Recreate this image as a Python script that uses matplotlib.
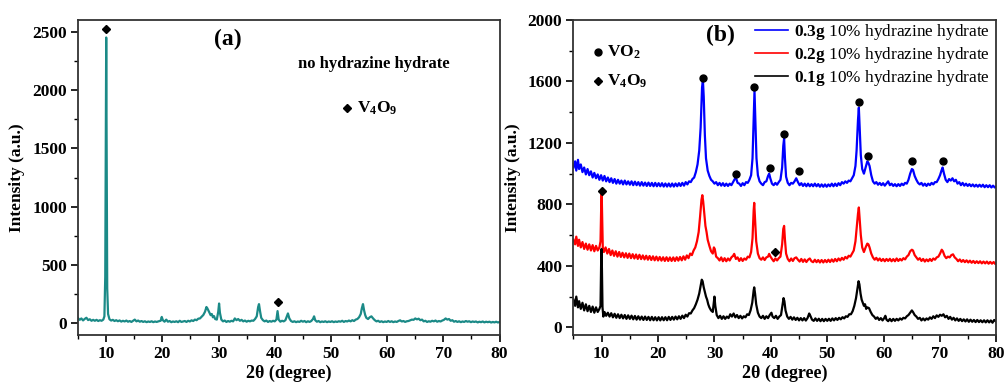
import matplotlib
matplotlib.use("Agg")
import matplotlib.pyplot as plt
from matplotlib.ticker import MultipleLocator

plt.rcParams['font.family'] = ['Liberation Serif', 'DejaVu Serif']
plt.rcParams['font.weight'] = 'bold'
plt.rcParams['mathtext.fontset'] = 'custom'
plt.rcParams['mathtext.rm'] = 'Liberation Serif'
plt.rcParams['mathtext.bf'] = 'Liberation Serif:bold'
plt.rcParams['mathtext.it'] = 'Liberation Serif:italic'

# ---- panel (a): no hydrazine hydrate, (2theta, intensity)
pts_a = [
    (5.0, 45), (5.3, 30), (5.6, 42), (5.9, 25), (6.2, 38), (6.5, 48), (6.8, 28), (7.1, 35), (7.4, 22), (7.7, 30),
    (8.0, 22), (8.3, 30), (8.6, 20), (8.9, 27), (9.2, 22), (9.5, 32), (9.7, 60), (9.85, 400), (9.95, 1500), (10.02, 2450),
    (10.1, 1400), (10.2, 300), (10.35, 80), (10.6, 35), (10.9, 24), (11.2, 30), (11.5, 20), (11.8, 27), (12.1, 18), (12.4, 25),
    (12.7, 15), (13.0, 22), (13.3, 16), (13.6, 24), (13.9, 14), (14.2, 20), (14.5, 12), (14.8, 22), (15.1, 32), (15.4, 17),
    (15.7, 24), (16.0, 14), (16.3, 20), (16.6, 12), (16.9, 18), (17.2, 10), (17.5, 16), (17.8, 12), (18.1, 18), (18.4, 10),
    (18.7, 16), (19.0, 12), (19.3, 17), (19.7, 22), (19.9, 55), (20.1, 27), (20.4, 14), (20.7, 32), (21.0, 14), (21.3, 20),
    (21.6, 10), (21.9, 16), (22.2, 12), (22.5, 18), (22.8, 10), (23.1, 22), (23.4, 12), (23.7, 16), (24.0, 20), (24.3, 12),
    (24.6, 22), (24.9, 16), (25.2, 26), (25.5, 20), (25.8, 32), (26.1, 27), (26.4, 40), (26.7, 42), (27.0, 57), (27.3, 72),
    (27.6, 100), (27.85, 140), (28.0, 130), (28.2, 110), (28.4, 90), (28.6, 70), (28.8, 80), (29.0, 52), (29.2, 62), (29.4, 37),
    (29.7, 32), (29.95, 100), (30.1, 170), (30.25, 90), (30.5, 32), (30.8, 17), (31.1, 24), (31.4, 12), (31.7, 20), (32.0, 14),
    (32.3, 22), (32.6, 17), (32.9, 42), (33.2, 27), (33.5, 37), (33.8, 22), (34.1, 30), (34.4, 17), (34.7, 24), (35.0, 14),
    (35.3, 22), (35.6, 17), (35.9, 24), (36.2, 22), (36.5, 37), (36.8, 60), (37.05, 140), (37.2, 165), (37.4, 100), (37.6, 47),
    (37.9, 27), (38.2, 17), (38.5, 24), (38.8, 12), (39.1, 20), (39.4, 14), (39.7, 22), (40.0, 17), (40.3, 32), (40.5, 105),
    (40.7, 32), (41.0, 14), (41.3, 22), (41.6, 17), (41.9, 27), (42.15, 60), (42.35, 85), (42.6, 42), (42.9, 20), (43.2, 12),
    (43.5, 18), (43.8, 10), (44.1, 16), (44.4, 12), (44.7, 22), (45.0, 14), (45.3, 20), (45.6, 10), (45.9, 18), (46.2, 12),
    (46.5, 20), (46.8, 37), (47.0, 60), (47.2, 27), (47.5, 14), (47.8, 20), (48.1, 10), (48.4, 16), (48.7, 12), (49.0, 18),
    (49.3, 10), (49.6, 16), (49.9, 12), (50.2, 18), (50.5, 10), (50.8, 16), (51.1, 12), (51.4, 18), (51.7, 14), (52.0, 22),
    (52.3, 12), (52.6, 20), (52.9, 16), (53.2, 24), (53.5, 17), (53.8, 27), (54.1, 20), (54.4, 32), (54.7, 37), (55.0, 52),
    (55.3, 80), (55.5, 130), (55.7, 165), (55.9, 110), (56.1, 70), (56.3, 47), (56.6, 37), (56.9, 52), (57.2, 60), (57.5, 42),
    (57.8, 27), (58.1, 17), (58.4, 22), (58.7, 12), (59.0, 18), (59.3, 10), (59.6, 16), (59.9, 12), (60.2, 20), (60.5, 12),
    (60.8, 18), (61.1, 10), (61.4, 16), (61.7, 12), (62.0, 20), (62.3, 26), (62.6, 16), (62.9, 20), (63.2, 12), (63.5, 18),
    (63.8, 20), (64.1, 26), (64.4, 32), (64.7, 30), (65.0, 42), (65.3, 34), (65.6, 40), (65.9, 27), (66.2, 32), (66.5, 17),
    (66.8, 22), (67.1, 12), (67.4, 18), (67.7, 14), (68.0, 22), (68.3, 17), (68.6, 24), (68.9, 14), (69.2, 20), (69.5, 16),
    (69.8, 24), (70.1, 30), (70.4, 42), (70.7, 32), (71.0, 37), (71.3, 22), (71.6, 27), (71.9, 14), (72.2, 20), (72.5, 12),
    (72.8, 18), (73.1, 10), (73.4, 16), (73.7, 12), (74.0, 20), (74.3, 14), (74.6, 18), (74.9, 10), (75.2, 16), (75.5, 12),
    (75.8, 16), (76.1, 8), (76.4, 14), (76.7, 10), (77.0, 16), (77.3, 8), (77.6, 14), (77.9, 10), (78.2, 14), (78.5, 7),
    (78.8, 12), (79.1, 8), (79.4, 14), (79.7, 7), (80.0, 12),
]

# ---- panel (b): 0.3 g sample (blue)
pts_03 = [
    (5.0, 1040), (5.3, 1080), (5.5, 1020), (5.8, 1090), (6.0, 1030), (6.3, 1060), (6.6, 1010), (6.9, 1040), (7.2, 995), (7.5, 1030),
    (7.8, 990), (8.1, 1015), (8.4, 975), (8.7, 1005), (9.0, 970), (9.3, 995), (9.6, 960), (9.9, 990), (10.2, 955), (10.5, 985),
    (10.8, 950), (11.1, 975), (11.4, 945), (11.7, 970), (12.0, 940), (12.3, 965), (12.6, 935), (12.9, 960), (13.2, 935), (13.5, 955),
    (13.8, 930), (14.1, 955), (14.4, 930), (14.7, 950), (15.0, 928), (15.3, 950), (15.6, 925), (15.9, 948), (16.2, 925), (16.5, 945),
    (16.8, 922), (17.1, 945), (17.4, 922), (17.7, 942), (18.0, 920), (18.3, 942), (18.6, 920), (18.9, 940), (19.2, 918), (19.5, 940),
    (19.8, 918), (20.1, 938), (20.4, 918), (20.7, 938), (21.0, 916), (21.3, 936), (21.6, 916), (21.9, 936), (22.2, 916), (22.5, 936),
    (22.8, 916), (23.1, 936), (23.4, 918), (23.7, 938), (24.0, 920), (24.3, 940), (24.6, 922), (24.9, 945), (25.2, 930), (25.5, 950),
    (25.8, 945), (26.1, 965), (26.4, 975), (26.7, 1010), (27.0, 1060), (27.3, 1150), (27.55, 1300), (27.8, 1560), (27.95, 1610), (28.1, 1500),
    (28.3, 1250), (28.5, 1100), (28.8, 1020), (29.1, 985), (29.4, 960), (29.7, 950), (30.0, 935), (30.3, 945), (30.6, 925), (30.9, 940),
    (31.2, 922), (31.5, 938), (31.8, 920), (32.1, 935), (32.4, 920), (32.7, 935), (33.0, 925), (33.3, 945), (33.6, 965), (33.8, 975),
    (34.1, 940), (34.4, 935), (34.7, 920), (35.0, 938), (35.3, 925), (35.6, 945), (35.9, 940), (36.2, 960), (36.5, 990), (36.75, 1100),
    (36.95, 1350), (37.1, 1540), (37.25, 1350), (37.45, 1100), (37.7, 990), (38.0, 950), (38.3, 935), (38.6, 925), (38.9, 945), (39.2, 950),
    (39.5, 985), (39.7, 1000), (39.9, 970), (40.2, 935), (40.5, 925), (40.8, 940), (41.1, 928), (41.4, 945), (41.7, 960), (42.0, 1040),
    (42.2, 1180), (42.35, 1230), (42.5, 1100), (42.7, 980), (43.0, 940), (43.3, 925), (43.6, 940), (43.9, 935), (44.2, 950), (44.5, 970),
    (44.8, 945), (45.1, 925), (45.4, 938), (45.7, 920), (46.0, 935), (46.3, 918), (46.6, 935), (46.9, 918), (47.2, 932), (47.5, 918),
    (47.8, 935), (48.1, 918), (48.4, 932), (48.7, 915), (49.0, 930), (49.3, 915), (49.6, 930), (49.9, 915), (50.2, 930), (50.5, 918),
    (50.8, 935), (51.1, 918), (51.4, 935), (51.7, 920), (52.0, 938), (52.3, 925), (52.6, 945), (52.9, 935), (53.2, 950), (53.5, 940),
    (53.8, 955), (54.1, 950), (54.4, 970), (54.7, 990), (55.0, 1050), (55.2, 1150), (55.45, 1350), (55.6, 1430), (55.75, 1300), (55.95, 1120),
    (56.2, 1030), (56.5, 1000), (56.8, 1040), (57.1, 1080), (57.3, 1070), (57.5, 1050), (57.8, 990), (58.1, 950), (58.4, 935), (58.7, 945),
    (59.0, 928), (59.3, 940), (59.6, 925), (59.9, 938), (60.2, 922), (60.5, 936), (60.8, 950), (61.1, 925), (61.4, 935), (61.7, 920),
    (62.0, 932), (62.3, 918), (62.6, 932), (62.9, 920), (63.2, 935), (63.5, 925), (63.8, 940), (64.1, 935), (64.4, 960), (64.7, 1000),
    (65.0, 1030), (65.2, 1025), (65.5, 985), (65.8, 960), (66.1, 940), (66.4, 930), (66.7, 940), (67.0, 922), (67.3, 935), (67.6, 920),
    (67.9, 935), (68.2, 925), (68.5, 940), (68.8, 930), (69.1, 945), (69.4, 945), (69.7, 965), (70.0, 990), (70.25, 1020), (70.45, 1040),
    (70.7, 1000), (71.0, 960), (71.3, 945), (71.6, 965), (71.9, 955), (72.2, 970), (72.5, 950), (72.8, 960), (73.1, 935), (73.4, 945),
    (73.7, 925), (74.0, 940), (74.3, 922), (74.6, 935), (74.9, 920), (75.2, 932), (75.5, 918), (75.8, 930), (76.1, 916), (76.4, 928),
    (76.7, 915), (77.0, 928), (77.3, 915), (77.6, 928), (77.9, 912), (78.2, 925), (78.5, 912), (78.8, 925), (79.1, 910), (79.4, 922),
    (79.7, 910), (80.0, 918),
]

# ---- 0.2 g sample (red)
pts_02 = [
    (5.0, 570), (5.3, 540), (5.5, 590), (5.8, 530), (6.0, 570), (6.3, 520), (6.6, 555), (6.9, 510), (7.2, 545), (7.5, 505),
    (7.8, 540), (8.1, 500), (8.4, 535), (8.7, 495), (9.0, 530), (9.3, 500), (9.6, 520), (9.8, 560), (9.9, 750), (10.0, 880),
    (10.1, 700), (10.2, 520), (10.4, 490), (10.7, 520), (11.0, 480), (11.3, 510), (11.6, 470), (11.9, 500), (12.2, 465), (12.5, 495),
    (12.8, 460), (13.1, 490), (13.4, 458), (13.7, 485), (14.0, 455), (14.3, 482), (14.6, 452), (14.9, 480), (15.2, 450), (15.5, 476),
    (15.8, 448), (16.1, 474), (16.4, 445), (16.7, 472), (17.0, 444), (17.3, 468), (17.6, 442), (17.9, 466), (18.2, 440), (18.5, 464),
    (18.8, 438), (19.1, 462), (19.4, 436), (19.7, 460), (20.0, 435), (20.3, 458), (20.6, 434), (20.9, 456), (21.2, 432), (21.5, 456),
    (21.8, 432), (22.1, 455), (22.4, 432), (22.7, 455), (23.0, 432), (23.3, 456), (23.6, 434), (23.9, 458), (24.2, 436), (24.5, 462),
    (24.8, 440), (25.1, 468), (25.4, 450), (25.7, 480), (26.0, 470), (26.3, 500), (26.6, 520), (26.9, 560), (27.2, 620), (27.45, 720),
    (27.7, 830), (27.85, 860), (28.0, 820), (28.2, 740), (28.4, 660), (28.6, 620), (28.8, 570), (29.1, 530), (29.4, 495), (29.7, 480),
    (29.9, 520), (30.05, 510), (30.3, 460), (30.6, 450), (30.9, 435), (31.2, 455), (31.5, 430), (31.8, 450), (32.1, 430), (32.4, 448),
    (32.7, 435), (33.0, 455), (33.3, 465), (33.5, 478), (33.8, 445), (34.1, 455), (34.4, 432), (34.7, 450), (35.0, 432), (35.3, 448),
    (35.6, 440), (35.9, 460), (36.2, 455), (36.5, 490), (36.75, 580), (36.95, 760), (37.05, 810), (37.2, 700), (37.4, 560), (37.7, 480),
    (38.0, 450), (38.3, 440), (38.6, 455), (38.9, 438), (39.2, 455), (39.5, 460), (39.7, 478), (39.9, 462), (40.2, 445), (40.5, 430),
    (40.8, 448), (41.1, 435), (41.4, 450), (41.7, 460), (42.0, 540), (42.2, 640), (42.35, 660), (42.5, 570), (42.7, 480), (43.0, 445),
    (43.3, 430), (43.6, 448), (43.9, 432), (44.2, 450), (44.5, 455), (44.8, 440), (45.1, 428), (45.4, 445), (45.7, 426), (46.0, 442),
    (46.3, 425), (46.6, 440), (46.9, 448), (47.2, 430), (47.5, 424), (47.8, 440), (48.1, 424), (48.4, 438), (48.7, 422), (49.0, 438),
    (49.3, 422), (49.6, 438), (49.9, 424), (50.2, 440), (50.5, 425), (50.8, 442), (51.1, 427), (51.4, 445), (51.7, 430), (52.0, 448),
    (52.3, 435), (52.6, 452), (52.9, 440), (53.2, 458), (53.5, 448), (53.8, 466), (54.1, 460), (54.4, 480), (54.7, 500), (55.0, 560),
    (55.2, 640), (55.45, 740), (55.6, 780), (55.75, 700), (55.95, 600), (56.2, 520), (56.5, 490), (56.8, 520), (57.1, 545), (57.3, 540),
    (57.5, 520), (57.8, 480), (58.1, 455), (58.4, 440), (58.7, 452), (59.0, 435), (59.3, 448), (59.6, 432), (59.9, 445), (60.2, 430),
    (60.5, 445), (60.8, 432), (61.1, 446), (61.4, 430), (61.7, 444), (62.0, 430), (62.3, 448), (62.6, 432), (62.9, 445), (63.2, 435),
    (63.5, 450), (63.8, 442), (64.1, 460), (64.4, 470), (64.7, 495), (65.0, 505), (65.2, 500), (65.5, 470), (65.8, 455), (66.1, 440),
    (66.4, 450), (66.7, 432), (67.0, 445), (67.3, 428), (67.6, 442), (67.9, 430), (68.2, 445), (68.5, 432), (68.8, 448), (69.1, 440),
    (69.4, 455), (69.7, 460), (70.0, 480), (70.3, 505), (70.5, 495), (70.8, 465), (71.1, 450), (71.4, 460), (71.7, 455), (72.0, 470),
    (72.3, 475), (72.6, 455), (72.9, 445), (73.2, 430), (73.5, 442), (73.8, 426), (74.1, 438), (74.4, 424), (74.7, 436), (75.0, 422),
    (75.3, 434), (75.6, 420), (75.9, 432), (76.2, 418), (76.5, 430), (76.8, 418), (77.1, 430), (77.4, 416), (77.7, 428), (78.0, 416),
    (78.3, 428), (78.6, 414), (78.9, 426), (79.2, 414), (79.5, 425), (79.8, 412), (80.0, 420),
]

# ---- 0.1 g sample (black)
pts_01 = [
    (5.0, 180), (5.3, 140), (5.5, 200), (5.8, 130), (6.0, 170), (6.3, 120), (6.6, 160), (6.9, 110), (7.2, 150), (7.5, 105),
    (7.8, 140), (8.1, 100), (8.4, 135), (8.7, 95), (9.0, 130), (9.3, 100), (9.6, 120), (9.8, 140), (9.9, 400), (9.97, 510),
    (10.05, 380), (10.15, 130), (10.3, 70), (10.5, 100), (10.8, 75), (11.1, 95), (11.4, 70), (11.7, 92), (12.0, 65), (12.3, 88),
    (12.6, 62), (12.9, 85), (13.2, 60), (13.5, 82), (13.8, 58), (14.1, 80), (14.4, 55), (14.7, 78), (15.0, 55), (15.3, 76),
    (15.6, 52), (15.9, 74), (16.2, 50), (16.5, 72), (16.8, 50), (17.1, 70), (17.4, 48), (17.7, 70), (18.0, 48), (18.3, 68),
    (18.6, 46), (18.9, 68), (19.2, 46), (19.5, 66), (19.8, 45), (20.1, 66), (20.4, 45), (20.7, 66), (21.0, 46), (21.3, 66),
    (21.6, 46), (21.9, 68), (22.2, 48), (22.5, 68), (22.8, 50), (23.1, 70), (23.4, 52), (23.7, 72), (24.0, 55), (24.3, 76),
    (24.6, 60), (24.9, 82), (25.2, 70), (25.5, 92), (25.8, 90), (26.1, 110), (26.4, 125), (26.7, 150), (27.0, 180), (27.3, 220),
    (27.55, 270), (27.75, 310), (27.9, 300), (28.1, 260), (28.3, 230), (28.5, 200), (28.7, 180), (28.9, 150), (29.1, 130), (29.4, 110),
    (29.7, 100), (29.9, 170), (30.0, 200), (30.15, 140), (30.4, 80), (30.7, 60), (31.0, 75), (31.3, 55), (31.6, 72), (31.9, 55),
    (32.2, 70), (32.5, 60), (32.8, 85), (33.1, 70), (33.4, 90), (33.7, 65), (34.0, 80), (34.3, 60), (34.6, 75), (34.9, 58),
    (35.2, 72), (35.5, 65), (35.8, 85), (36.1, 80), (36.4, 110), (36.7, 160), (36.95, 240), (37.05, 260), (37.2, 220), (37.4, 150),
    (37.7, 95), (38.0, 70), (38.3, 60), (38.6, 75), (38.9, 55), (39.2, 72), (39.5, 60), (39.8, 80), (40.1, 95), (40.3, 70),
    (40.6, 60), (40.9, 75), (41.2, 55), (41.5, 70), (41.8, 80), (42.05, 140), (42.25, 190), (42.4, 170), (42.6, 110), (42.9, 70),
    (43.2, 55), (43.5, 68), (43.8, 50), (44.1, 65), (44.4, 48), (44.7, 62), (45.0, 45), (45.3, 60), (45.6, 45), (45.9, 60),
    (46.2, 44), (46.5, 60), (46.8, 90), (47.0, 75), (47.3, 50), (47.6, 42), (47.9, 58), (48.2, 42), (48.5, 56), (48.8, 40),
    (49.1, 55), (49.4, 40), (49.7, 55), (50.0, 42), (50.3, 56), (50.6, 42), (50.9, 58), (51.2, 45), (51.5, 60), (51.8, 48),
    (52.1, 62), (52.4, 52), (52.7, 66), (53.0, 58), (53.3, 72), (53.6, 68), (53.9, 85), (54.2, 85), (54.5, 105), (54.8, 140),
    (55.1, 190), (55.35, 250), (55.55, 300), (55.7, 280), (55.9, 220), (56.1, 180), (56.3, 160), (56.5, 140), (56.7, 150), (56.9, 120),
    (57.1, 130), (57.4, 125), (57.7, 100), (58.0, 80), (58.3, 70), (58.6, 55), (58.9, 65), (59.2, 48), (59.5, 60), (59.8, 45),
    (60.1, 60), (60.3, 75), (60.5, 50), (60.8, 40), (61.1, 55), (61.4, 40), (61.7, 55), (62.0, 42), (62.3, 55), (62.6, 45),
    (62.9, 58), (63.2, 50), (63.5, 62), (63.8, 58), (64.1, 72), (64.4, 80), (64.7, 95), (65.0, 110), (65.2, 100), (65.5, 80),
    (65.8, 70), (66.1, 55), (66.4, 62), (66.7, 45), (67.0, 58), (67.3, 45), (67.6, 58), (67.9, 50), (68.2, 65), (68.5, 55),
    (68.8, 72), (69.1, 60), (69.4, 78), (69.7, 68), (70.0, 82), (70.3, 75), (70.6, 85), (70.9, 65), (71.2, 75), (71.5, 55),
    (71.8, 68), (72.1, 50), (72.4, 62), (72.7, 45), (73.0, 58), (73.3, 42), (73.6, 55), (73.9, 40), (74.2, 52), (74.5, 38),
    (74.8, 52), (75.1, 36), (75.4, 50), (75.7, 36), (76.0, 48), (76.3, 34), (76.6, 48), (76.9, 34), (77.2, 46), (77.5, 33),
    (77.8, 46), (78.1, 32), (78.4, 46), (78.7, 32), (79.0, 45), (79.3, 30), (79.6, 48), (80.0, 35),
]

# phase markers (position, height)
a_v4o9 = [(10.0, 2520), (40.5, 180)]
b_vo2 = [(28.0, 1625), (33.8, 1000), (37.1, 1565), (39.8, 1040), (42.3, 1260),
         (45.0, 1020), (55.7, 1465), (57.3, 1115), (65.1, 1080), (70.5, 1085)]
b_v4o9 = [(10.0, 885), (40.8, 490)]

labels_b = [r"$\mathbf{0.3g}$ 10% hydrazine hydrate",
            r"$\mathbf{0.2g}$ 10% hydrazine hydrate",
            r"$\mathbf{0.1g}$ 10% hydrazine hydrate"]


def xy(pts):
    return [p[0] for p in pts], [p[1] for p in pts]


def style_axes(ax, ymaj, ymin):
    ax.set_xlim(5, 80)
    ax.xaxis.set_major_locator(MultipleLocator(10))
    ax.xaxis.set_minor_locator(MultipleLocator(5))
    ax.yaxis.set_major_locator(MultipleLocator(ymaj))
    ax.yaxis.set_minor_locator(MultipleLocator(ymin))
    ax.tick_params(which='major', direction='out', length=5, width=1.2,
                   labelsize=12.5, pad=3, top=False, right=False)
    ax.tick_params(which='minor', direction='out', length=3, width=1.0,
                   top=False, right=False)
    for s in ax.spines.values():
        s.set_linewidth(1.3)
        s.set_color('#333333')
    ax.set_xlabel("2θ (degree)", fontsize=13, fontweight='bold', labelpad=2)
    ax.set_ylabel("Intensity (a.u.)", fontsize=12.5, fontweight='bold', labelpad=5)


fig = plt.figure(figsize=(10.05, 3.83), dpi=100)

# ---------- (a)
ax1 = fig.add_axes([0.0776, 0.1253, 0.4195, 0.8225])
x, y = xy(pts_a)
ax1.plot(x, y, color='#1b8a87', lw=1.6)
mx, my = xy(a_v4o9)
ax1.plot(mx, my, 'D', color='black', ms=4.5, ls='none')
ax1.set_ylim(-100, 2600)
style_axes(ax1, 500, 250)
ax1.text(31.7, 2430, "(a)", fontsize=17, fontweight='bold', ha='center', va='center')
ax1.text(44.1, 2220, "no hydrazine hydrate", fontsize=12, fontweight='bold', va='center')
ax1.plot([52.9], [1845], 'D', color='black', ms=4.5)
ax1.text(54.6, 1845, r"V$_\mathbf{4}$O$_\mathbf{9}$", fontsize=12.5, fontweight='bold', va='center')

# ---------- (b)
ax2 = fig.add_axes([0.5706, 0.1253, 0.4209, 0.8225])
x, y = xy(pts_03)
ax2.plot(x, y, color='#0000ff', lw=1.6, label=labels_b[0])
x, y = xy(pts_02)
ax2.plot(x, y, color='#ff0000', lw=1.6, label=labels_b[1])
x, y = xy(pts_01)
ax2.plot(x, y, color='black', lw=1.6, label=labels_b[2])
mx, my = xy(b_vo2)
ax2.plot(mx, my, 'o', color='black', ms=5, ls='none')
mx, my = xy(b_v4o9)
ax2.plot(mx, my, 'D', color='black', ms=4.5, ls='none')
ax2.set_ylim(-50, 2000)
style_axes(ax2, 400, 200)
ax2.text(31.0, 1900, "(b)", fontsize=17, fontweight='bold', ha='center', va='center')
ax2.plot([9.3], [1790], 'o', color='black', ms=5)
ax2.text(10.9, 1790, r"VO$_\mathbf{2}$", fontsize=12.5, fontweight='bold', va='center')
ax2.plot([9.3], [1600], 'D', color='black', ms=4.5)
ax2.text(10.9, 1600, r"V$_\mathbf{4}$O$_\mathbf{9}$", fontsize=12.5, fontweight='bold', va='center')

leg = ax2.legend(loc='upper right', bbox_to_anchor=(1.008, 1.025), frameon=False,
                 prop={'size': 12.4, 'weight': 'normal'}, handlelength=1.9,
                 handletextpad=0.35, labelspacing=0.15, borderaxespad=0.2)
for h in leg.get_lines():
    h.set_linewidth(1.2)

fig.savefig("out.png", dpi=100)
